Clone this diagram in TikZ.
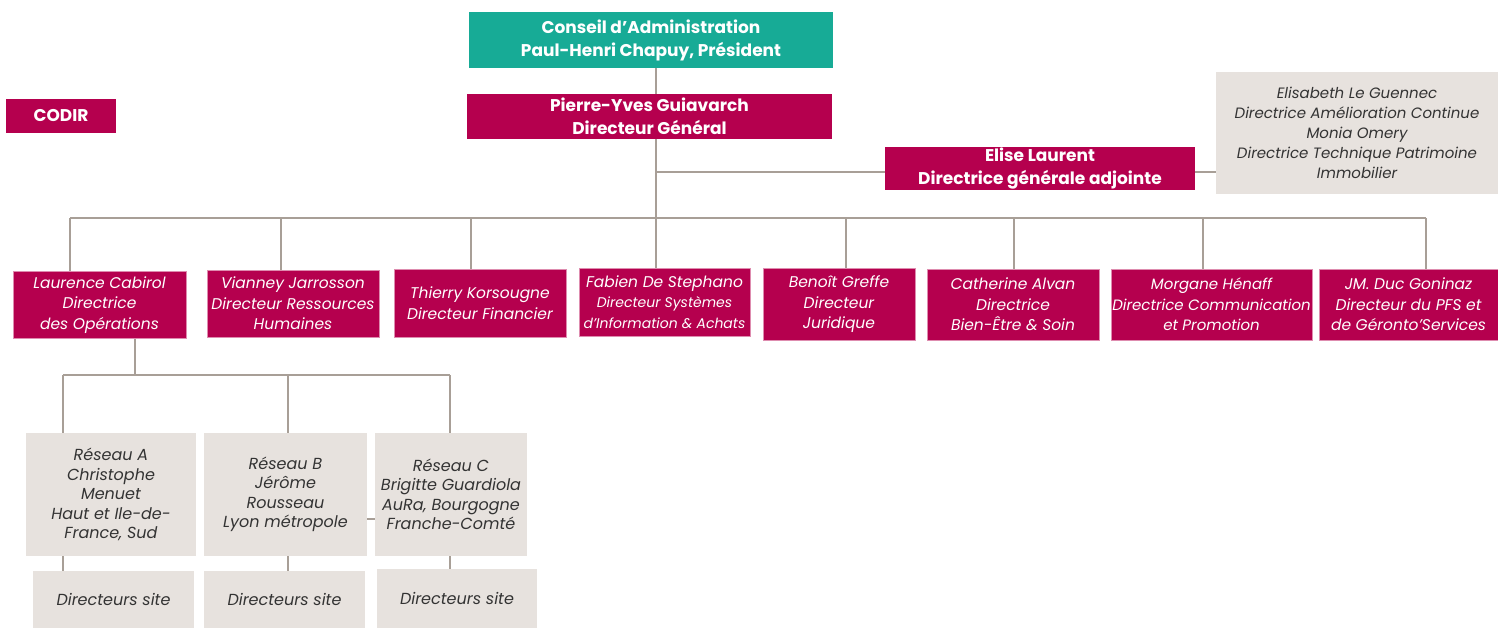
\documentclass[tikz,border=0pt]{standalone}
\usepackage{fontspec}
\setmainfont{Poppins}
\definecolor{vert}{HTML}{17AB96}
\definecolor{rose}{HTML}{B5004E}
\definecolor{gris}{HTML}{E7E2DE}
\definecolor{lien}{HTML}{A89F97}
\definecolor{texte}{HTML}{333333}
\begin{document}
\begin{tikzpicture}[x=1pt,y=-1pt,inner sep=0pt,
  line/.style={draw=lien,line width=1.4pt},
  ca/.style={fill=vert,text=white,align=center,font=\bfseries\fontsize{17}{23}\selectfont},
  dg/.style={fill=rose,text=white,align=center,font=\bfseries\fontsize{17}{23}\selectfont},
  dir/.style={fill=rose,draw=rose!45!white,line width=0.8pt,text=white,align=center,
    font=\itshape\fontsize{15.5}{20.5}\selectfont},
  gr/.style={fill=gris,text=texte,align=center,font=\itshape\fontsize{15}{20}\selectfont},
  res/.style={gr,font=\itshape\fontsize{16}{19.5}\selectfont}]
\useasboundingbox (0,0) rectangle (1498,628);
% haut
\node[ca,minimum width=364,minimum height=56] (ca) at (651,40)
  {Conseil d’Administration\\Paul-Henri Chapuy, Président};
\node[dg,minimum width=365,minimum height=45] (pyg) at (649.5,116.5)
  {Pierre-Yves Guiavarch\\Directeur Général};
\node[dg,minimum width=110,minimum height=34] (codir) at (61,116) {CODIR};
\node[dg,minimum width=310,minimum height=43] (el) at (1040,168.5)
  {Elise Laurent\\Directrice générale adjointe};
\node[gr,minimum width=282,minimum height=122] (am) at (1357,133)
  {Elisabeth Le Guennec\\Directrice Amélioration Continue\\Monia Omery\\
   Directrice Technique Patrimoine\\Immobilier};
% directeurs
\node[dir,minimum width=173,minimum height=67] (lau) at (99.5,305)
  {Laurence Cabirol\\Directrice\\des Opérations};
\node[dir,minimum width=172,minimum height=67] (via) at (293,303.5)
  {Vianney Jarrosson\\Directeur Ressources\\Humaines};
\node[dir,minimum width=172,minimum height=68] (thi) at (480,303)
  {Thierry Korsougne\\Directeur Financier};
\node[dir,minimum width=171,minimum height=68] (fab) at (664.5,302)
  {Fabien De Stephano\\{\fontsize{14}{19}\selectfont Directeur Systèmes}\\
   {\fontsize{14}{19}\selectfont d’Information \& Achats}};
\node[dir,minimum width=152,minimum height=72] (ben) at (839,304.5)
  {Benoît Greffe\\Directeur\\Juridique};
\node[dir,minimum width=172,minimum height=71] (cat) at (1013,304.5)
  {Catherine Alvan\\Directrice\\Bien-Être \& Soin};
\node[dir,minimum width=201,minimum height=71,font=\itshape\fontsize{15}{20.5}\selectfont]
  (mor) at (1211.5,304.5) {Morgane Hénaff\\Directrice Communication\\et Promotion};
\node[dir,minimum width=179,minimum height=71] (jm) at (1408.5,304.5)
  {JM. Duc Goninaz\\Directeur du PFS et\\de Géronto’Services};
% reseaux
\node[res,minimum width=170,minimum height=123] (ra) at (111,494.5)
  {Réseau A\\Christophe\\Menuet\\Haut et Ile-de-\\France, Sud};
\node[res,minimum width=163,minimum height=123] (rb) at (285.5,494.5)
  {Réseau B\\Jérôme\\Rousseau\\Lyon métropole};
\node[res,minimum width=152,minimum height=123] (rc) at (451,494.5)
  {Réseau C\\Brigitte Guardiola\\AuRa, Bourgogne\\Franche-Comté};
\node[res,minimum width=161,minimum height=57] (sa) at (113.5,599.5) {Directeurs site};
\node[res,minimum width=161,minimum height=57] (sb) at (284.5,599.5) {Directeurs site};
\node[res,minimum width=160,minimum height=59] (sc) at (457,598.5) {Directeurs site};
% liens
\coordinate (t) at (656,218);
\coordinate (e) at (656,172);
\coordinate (b1) at (70,218);
\coordinate (b2) at (281,218);
\coordinate (b3) at (471,218);
\coordinate (b5) at (846,218);
\coordinate (b6) at (1014,218);
\coordinate (b7) at (1203,218);
\coordinate (b8) at (1426,218);
\draw[line] (ca.south -| t) -- (pyg.north -| t) (pyg.south -| t) -- (fab.north -| t);
\draw[line] (e) -- (e -| el.west) (el.east |- e) -- (e -| am.west);
\draw[line] (b1) -- (b8);
\draw[line] (b1) -- (b1 |- lau.north) (b2) -- (b2 |- via.north) (b3) -- (b3 |- thi.north)
  (b5) -- (b5 |- ben.north) (b6) -- (b6 |- cat.north) (b7) -- (b7 |- mor.north)
  (b8) -- (b8 |- jm.north);
\coordinate (r) at (135,375);
\coordinate (r1) at (63,375);
\coordinate (r2) at (288,375);
\coordinate (r3) at (450,375);
\draw[line] (lau.south -| r) -- (r) (r1) -- (r3);
\draw[line] (r1) -- (r1 |- ra.north) (r2) -- (r2 |- rb.north) (r3) -- (r3 |- rc.north);
\draw[line] (ra.south -| r1) -- (sa.north -| r1) (rb.south -| r2) -- (sb.north -| r2)
  (rc.south -| r3) -- (sc.north -| r3);
\draw[line] (rb.east |- 0,519) -- (rc.west |- 0,519);
\end{tikzpicture}
\end{document}
